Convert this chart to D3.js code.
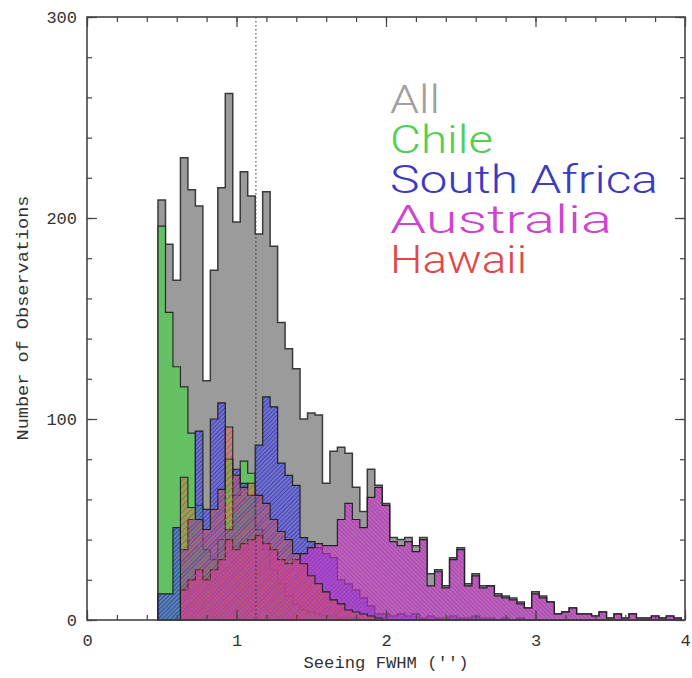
<!DOCTYPE html>
<html lang="en">
<head>
<meta charset="UTF-8"/>
<title>Seeing FWHM histogram</title>
<script src="https://d3js.org/d3.v7.min.js"></script>
<style>
  body { margin: 0; background: #fff; }
  svg { display: block; }
  .tick text { font-family: "Liberation Mono", monospace; font-size: 17px; fill: #333; }
  .tick line, .domain { stroke: #444; }
  .axis-title { font-family: "Liberation Mono", monospace; font-size: 17px; fill: #333; }
  .legend { font-family: "Roboto", "DejaVu Sans", sans-serif; font-weight: 300; font-size: 38px; }
</style>
</head>
<body>
<script>
// histogram bins (seeing in arcsec)
const seeingBinStart = 0.475;
const binWidth = 0.05;

const allObs = [
  209,187,169,230,214,206,119,174,215,262,
  198,223,211,192,213,186,148,135,125,100,
  103,102,68,84,86,83,66,54,75,67,
  58,41,40,41,37,41,23,25,17,31,
  36,18,23,17,17,13,12,11,9,6,
  14,12,9,3,4,6,3,3,2,4,
  1,3,1,3,1,1,2,1,2,1
];
const chileObs = [
  196,153,126,116,93,57,35,30,40,80,
  62,79,73,45,35,25,18,12,8,5,
  4,3,2,2,1,1,1,0,0,0,
  0,0,0,0,0,0,0,0,0,0,
  0,0,0,0,0,0,0,0,0,0,
  0,0,0,0,0,0,0,0,0,0,
  0,0,0,0,0,0,0,0,0,0
];
const southAfricaObs = [
  13,13,46,35,50,94,55,100,108,45,
  75,68,62,87,111,106,78,72,67,41,
  39,36,33,31,20,18,15,11,7,3,
  3,2,3,2,3,1,2,1,1,2,
  1,1,2,1,1,0,1,0,1,0,
  0,0,0,0,0,0,0,0,0,0,
  0,0,0,0,0,0,0,0,0,0
];
const australiaObs = [
  0,0,0,15,20,25,20,25,30,40,
  35,38,40,42,38,35,30,28,30,33,
  36,38,37,37,50,58,50,46,61,66,
  57,39,37,39,34,40,17,24,16,30,
  35,17,22,16,17,12,11,10,8,6,
  13,11,9,3,4,6,3,3,2,4,
  1,3,1,3,1,1,2,1,2,1
];
const hawaiiObs = [
  0,0,0,71,56,50,45,55,65,96,
  72,66,68,62,58,50,44,40,33,28,
  22,18,14,10,8,5,4,3,2,1,
  0,0,0,0,0,0,0,0,0,0,
  0,0,0,0,0,0,0,0,0,0,
  0,0,0,0,0,0,0,0,0,0,
  0,0,0,0,0,0,0,0,0,0
];
const medianSeeing = 1.13;

const legendNames = ['All', 'Chile', 'South Africa', 'Australia', 'Hawaii'];
const xTicks = [0, 1, 2, 3, 4];
const yTicks = [0, 100, 200, 300];

const W = 692, H = 678;
const mLeft = 87, mRight = 685, mTop = 17, mBottom = 620;

const svg = d3.select('body').append('svg').attr('width', W).attr('height', H);
const x = d3.scaleLinear().domain([0, 4]).range([mLeft, mRight]);
const y = d3.scaleLinear().domain([0, 300]).range([mBottom, mTop]);

// hatch patterns
const defs = svg.append('defs');
function hatch(id, base, baseOp, line, lw, size, angle) {
  const p = defs.append('pattern').attr('id', id)
    .attr('patternUnits', 'userSpaceOnUse').attr('width', size).attr('height', size)
    .attr('patternTransform', `rotate(${angle})`);
  p.append('rect').attr('width', size).attr('height', size).attr('fill', base).attr('fill-opacity', baseOp);
  p.append('line').attr('x1', 0).attr('y1', 0).attr('x2', 0).attr('y2', size)
    .attr('stroke', line).attr('stroke-width', lw);
}
hatch('h-sa', '#4646e6', 0.45, '#2b2bdc', 1.5, 3, 45);
hatch('h-au', '#c83cc8', 0.55, '#b82cbf', 1.4, 3, -45);
hatch('h-hw', '#e85040', 0.22, '#e2483a', 1.7, 4.5, 45);

const series = [
  {vals: allObs, fill: '#9b9b9b', stroke: '#3a3a3a', sw: 1.5},
  {vals: chileObs, fill: '#63c063', stroke: '#2a2a2a', sw: 1.2},
  {vals: southAfricaObs, fill: 'url(#h-sa)', stroke: '#222', sw: 1.2},
  {vals: australiaObs, fill: 'url(#h-au)', stroke: '#222', sw: 1.2},
  {vals: hawaiiObs, fill: 'url(#h-hw)', stroke: '#222', sw: 1.1}
];

const area = d3.area().curve(d3.curveStepAfter)
  .x(d => x(d[0])).y0(y(0)).y1(d => y(d[1]));

const plot = svg.append('g');
series.forEach(s => {
  const pts = s.vals.map((v, i) => [seeingBinStart + i * binWidth, v]);
  pts.push([seeingBinStart + s.vals.length * binWidth, s.vals[s.vals.length - 1]]);
  plot.append('path').datum(pts).attr('d', area)
    .attr('fill', s.fill).attr('stroke', s.stroke).attr('stroke-width', s.sw)
    .attr('stroke-linejoin', 'miter');
});

// median line
svg.append('line')
  .attr('x1', x(medianSeeing)).attr('x2', x(medianSeeing))
  .attr('y1', mTop).attr('y2', mBottom)
  .attr('stroke', '#333').attr('stroke-width', 1).attr('stroke-dasharray', '1.5,2.5');

// axes with inward ticks
const minorX = d3.range(0, 4.001, 0.2);
const minorY = d3.range(0, 300.1, 20);
function addAxis(gen, transform) {
  const g = svg.append('g').attr('transform', transform).call(gen);
  g.select('.domain').remove();
  return g;
}
addAxis(d3.axisBottom(x).tickValues(minorX).tickSize(-5).tickFormat(''), `translate(0,${mBottom})`);
addAxis(d3.axisBottom(x).tickValues(xTicks).tickSize(-10).tickPadding(14).tickFormat(d3.format('d')), `translate(0,${mBottom})`);
addAxis(d3.axisTop(x).tickValues(minorX).tickSize(-5).tickFormat(''), `translate(0,${mTop})`);
addAxis(d3.axisTop(x).tickValues(xTicks).tickSize(-10).tickFormat(''), `translate(0,${mTop})`);
addAxis(d3.axisLeft(y).tickValues(minorY).tickSize(-5).tickFormat(''), `translate(${mLeft},0)`);
addAxis(d3.axisLeft(y).tickValues(yTicks).tickSize(-10).tickPadding(10).tickFormat(d3.format('d')), `translate(${mLeft},0)`);
addAxis(d3.axisRight(y).tickValues(minorY).tickSize(-5).tickFormat(''), `translate(${mRight},0)`);
addAxis(d3.axisRight(y).tickValues(yTicks).tickSize(-10).tickFormat(''), `translate(${mRight},0)`);
svg.selectAll('.tick line').attr('stroke', '#444').attr('stroke-width', 1.2);

svg.append('rect').attr('x', mLeft).attr('y', mTop)
  .attr('width', mRight - mLeft).attr('height', mBottom - mTop)
  .attr('fill', 'none').attr('stroke', '#444').attr('stroke-width', 1.6);

// axis titles
svg.append('text').attr('class', 'axis-title')
  .attr('x', 386).attr('y', 668).attr('text-anchor', 'middle')
  .attr('textLength', 165).attr('lengthAdjust', 'spacingAndGlyphs')
  .text("Seeing FWHM ('')");
svg.append('text').attr('class', 'axis-title')
  .attr('transform', 'translate(28,318) rotate(-90)').attr('text-anchor', 'middle')
  .attr('textLength', 245).attr('lengthAdjust', 'spacingAndGlyphs')
  .text('Number of Observations');

// legend
const legendColors = ['#a0a0a0', '#4fd04f', '#3a3ac4', '#cf44cf', '#e04848'];
const legendWidths = [50, 103, 268, 222, 137];
legendNames.forEach((name, i) => {
  svg.append('text').attr('class', 'legend')
    .attr('x', 390).attr('y', 113 + i * 40)
    .attr('fill', legendColors[i])
    .attr('textLength', legendWidths[i]).attr('lengthAdjust', 'spacingAndGlyphs')
    .text(name);
});
</script>
</body>
</html>
